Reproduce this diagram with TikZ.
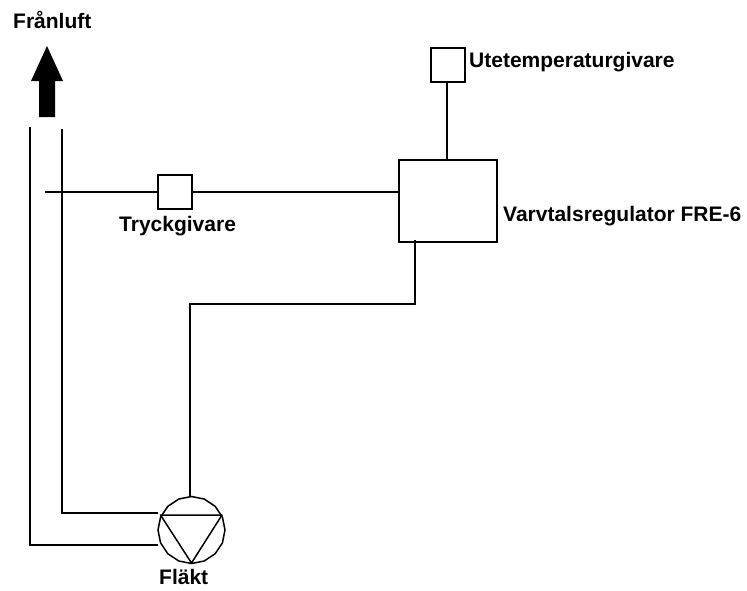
\documentclass[tikz,border=0pt]{standalone}
\usepackage{fontspec}
\setmainfont{Liberation Sans}
\usetikzlibrary{shapes.geometric}
\tikzset{
  px/.style={x=1pt,y=-1pt},
  wire/.style={draw=black,line width=1.9pt},
  thinwire/.style={draw=black,line width=1.5pt},
  lab/.style={font=\bfseries\fontsize{21}{24}\selectfont,text=black,inner sep=0pt,anchor=base west},
  boxx/.style={draw=black,line width=1.9pt,fill=white,minimum width=34pt,minimum height=34pt,inner sep=0pt},
}
\begin{document}
\begin{tikzpicture}[px]
\useasboundingbox (0,0) rectangle (747,590);
% air duct
\coordinate (d1) at (30,127);
\coordinate (d2) at (30,545);
\coordinate (d3) at (158,545);
\coordinate (d4) at (62,129);
\coordinate (d5) at (62,513);
\coordinate (d6) at (158,513);
\draw[wire] (d1) -- (d2) -- (d3);
\draw[wire] (d4) -- (d5) -- (d6);
% exhaust arrow
\fill[black] (47,46) -- (63,81) -- (55,81) -- (55,117) -- (39,117) -- (39,81) -- (31,81) -- cycle;
% nodes
\node[boxx] (tryck) at (175,192) {};
\node[boxx,minimum width=98pt,minimum height=82pt] (reg) at (448,201) {};
\node[boxx] (ute) at (448,65) {};
\node[regular polygon,regular polygon sides=16,shape border rotate=11.25,draw=black,line width=1.5pt,fill=white,minimum size=67pt,inner sep=0pt] (fan) at (191.5,530) {};
\coordinate (tip) at (45,192);
\coordinate (regbot) at (415,240);
\coordinate (c1) at (415,304);
\coordinate (c2) at (190,304);
\coordinate (fantop) at (190,497);
\coordinate (t1) at (160.5,515);
\coordinate (t2) at (222,515);
\coordinate (t3) at (191.5,563);
\draw[thinwire,line join=round] (t1) -- (t2) -- (t3) -- cycle;
% connectors
\draw[wire] (tip) -- (tryck.west);
\draw[wire] (tryck.east) -- (reg.west |- tryck.east);
\draw[wire] ([xshift=-1pt]ute.south) -- ([xshift=-1pt]reg.north);
\draw[wire] (regbot) -- (c1) -- (c2) -- (fantop);
\draw[draw=black,line width=2.4pt] (190,432) -- (190,450);
% labels
\node[lab] (l1) at (13,28) {Frånluft};
\node[lab] (l2) at (119,231) {Tryckgivare};
\node[lab] (l3) at (469,67) {Utetemperaturgivare};
\node[lab] (l4) at (503,221) {Varvtalsregulator FRE-6};
\node[lab] (l5) at (159,584) {Fläkt};
\end{tikzpicture}
\end{document}
